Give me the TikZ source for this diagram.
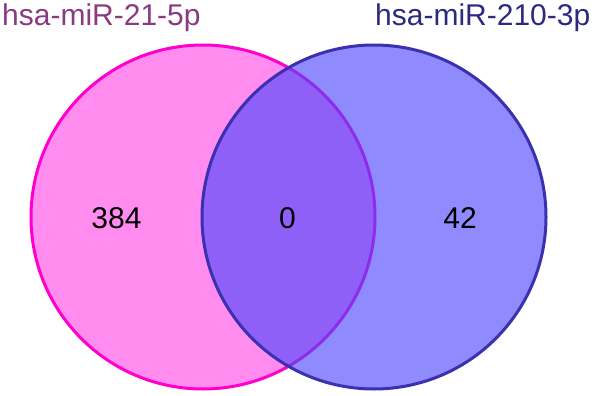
\documentclass[tikz,border=0pt]{standalone}
\usepackage{fontspec}
\setmainfont{Liberation Sans}
\definecolor{pinkfill}{HTML}{FF8CEE}
\definecolor{pinkline}{HTML}{FF00CC}
\definecolor{bluefill}{HTML}{4D47FF}
\definecolor{blueline}{HTML}{3A30B0}
\definecolor{pinktext}{HTML}{8A3A80}
\definecolor{bluetext}{HTML}{2C2A80}
\tikzset{
    setcircle/.style={circle, line width=3pt, minimum size=344pt, inner sep=0pt},
    setA/.style={setcircle, draw=pinkline, fill=pinkfill},
    setB/.style={setcircle, draw=blueline, fill=bluefill, fill opacity=0.63},
    count/.style={font=\fontsize{30}{36}\selectfont, inner sep=0pt, text=black},
    setname/.style={font=\fontsize{30}{36}\selectfont, inner sep=0pt, anchor=base west},
}
\begin{document}
\begin{tikzpicture}[x=1pt, y=-1pt]

    \useasboundingbox (0,0) rectangle (597,396);
    \node[setA] (mirA) at (203,217) {};
    \node[setB] (mirB) at (374,217) {};
    \node[setname, text=pinktext] (nameA) at (2,26) {hsa-miR-21-5p};
    \node[setname, text=bluetext] (nameB) at (375,26) {hsa-miR-210-3p};
    \node[count] (onlyA) at (116.5,218.5) {384};
    \node[count] (both) at (287.5,218.5) {0};
    \node[count] (onlyB) at (460,218.5) {42};

\end{tikzpicture}
\end{document}
